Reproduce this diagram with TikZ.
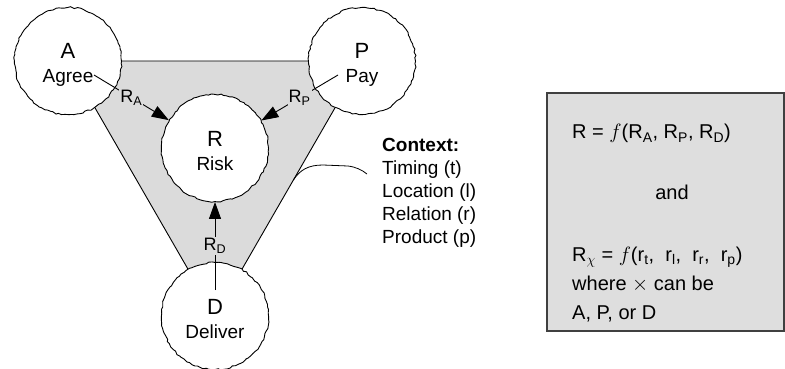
\documentclass[tikz,border=0pt]{standalone}
\usepackage{fontspec}
\setmainfont{Liberation Sans}
\usetikzlibrary{arrows.meta, calc, decorations.pathmorphing}

\definecolor{tri}{gray}{0.86}
\definecolor{boxgray}{gray}{0.87}
\definecolor{boxline}{gray}{0.25}

\newcommand{\bigletter}[1]{\rule{0pt}{22pt}{\fontsize{22}{24}\selectfont #1}}

\tikzstyle{stage} = [circle, minimum size=107pt, inner sep=0pt, draw=black, fill=white, line width=0.9pt, decorate, decoration={random steps, segment length=3pt, amplitude=0.8pt}, align=center, font=\fontsize{19}{24}\selectfont]
\tikzstyle{arrow} = [line width=0.9pt, -{Triangle[length=17pt, width=12pt]}]
\tikzstyle{tag} = [fill=tri, inner sep=1pt, font=\fontsize{18}{20}\selectfont]
\tikzstyle{txt} = [inner sep=0pt, font=\fontsize{19}{23}\selectfont]

\begin{document}
\begin{tikzpicture}[x=1pt, y=-1pt]
    \useasboundingbox (0,0) rectangle (785,369);

    \coordinate (pA) at (68,61);
    \coordinate (pP) at (362,61);
    \coordinate (pD) at (215,316);
    \filldraw [fill=tri, draw=black, line width=0.9pt] (pA) -- (pP) -- (pD) -- cycle;

    \node (A) [stage] at (pA) {\bigletter{A}\\Agree};
    \node (P) [stage] at (pP) {\bigletter{P}\\Pay};
    \node (R) [stage] at (215,148) {\bigletter{R}\\Risk};
    \node (D) [stage] at (pD) {\bigletter{D}\\Deliver};

    \coordinate (fromA) at ($(A)+(26,14)$);
    \coordinate (fromP) at ($(P)+(-24,14)$);
    \coordinate (fromD) at ($(D)+(0,-26)$);

    \draw [arrow] (fromA) -- node[tag] {R\textsubscript{A}} (R);
    \draw [arrow] (fromP) -- node[tag] {R\textsubscript{P}} (R);
    \draw [arrow] (fromD) -- node[tag] {R\textsubscript{D}} (R);

    % context
    \coordinate (ctx) at ($(pP)!0.467!(pD)$);
    \coordinate (ctxend) at (367,174);
    \draw [line width=0.8pt] (ctx) .. controls (300,170) and (308,165) .. (323,165) -- (348,166) .. controls (356,167) and (362,170) .. (ctxend);
    \node (context) [txt, anchor=north west, align=left] at (382,138) {\textbf{Context:}\\Timing (t)\\Location (l)\\Relation (r)\\Product (p)};

    % formula box
    \node (box) [draw=boxline, fill=boxgray, line width=1.3pt, minimum width=237pt, minimum height=238pt, inner sep=0pt] at (665.5,212) {};
    \node (eq1) [txt, anchor=base west, font=\fontsize{20}{24}\selectfont] at (572,139) {R = $f$(R\textsubscript{A}, R\textsubscript{P}, R\textsubscript{D})};
    \node (and) [txt, anchor=base, font=\fontsize{20}{24}\selectfont] at (672,199) {and};
    \node (eq2) [txt, anchor=north west, align=left, font=\fontsize{20}{29}\selectfont] at (572,247) {R\textsubscript{$\chi$} = $f$(r\textsubscript{t}, \ r\textsubscript{l}, \ r\textsubscript{r}, \ r\textsubscript{p})\\where $\times$ can be\\A, P, or D};

\end{tikzpicture}
\end{document}
